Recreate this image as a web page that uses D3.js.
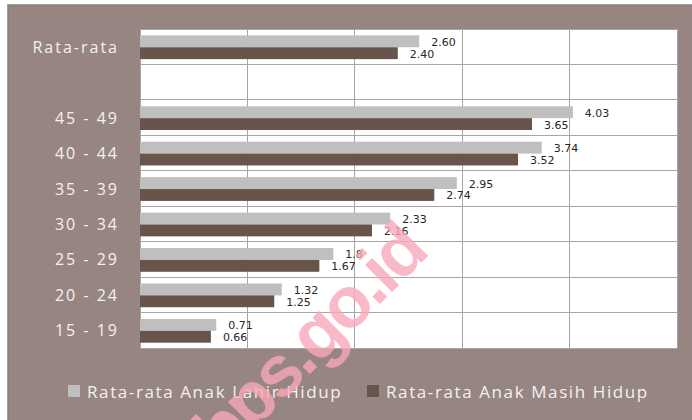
<!DOCTYPE html>
<html>
<head>
<meta charset="utf-8">
<script src="https://cdn.jsdelivr.net/npm/d3@7"></script>
<style>
  html, body { margin: 0; padding: 0; background: #ffffff; }
  svg { display: block; }
</style>
</head>
<body>
<svg id="chart" width="692" height="420"></svg>
<script>
// ---- data ----
const categories = ["Rata-rata", " ", "45 - 49", "40 - 44", "35 - 39", "30 - 34", "25 - 29", "20 - 24", "15 - 19"];
const lahirHidup = [2.60, null, 4.03, 3.74, 2.95, 2.33, 1.8, 1.32, 0.71];
const masihHidup = [2.40, null, 3.65, 3.52, 2.74, 2.16, 1.67, 1.25, 0.66];
const lahirLabels = ["2.60", "", "4.03", "3.74", "2.95", "2.33", "1.8", "1.32", "0.71"];
const masihLabels = ["2.40", "", "3.65", "3.52", "2.74", "2.16", "1.67", "1.25", "0.66"];
const seriesNames = ["Rata-rata Anak Lahir Hidup", "Rata-rata Anak Masih Hidup"];
const xTicks = [0, 1, 2, 3, 4, 5];

const colors = ["#bfbfbf", "#67544b"];
const svg = d3.select("#chart");

// outer background
svg.append("rect").attr("x", 8).attr("y", 5).attr("width", 700).attr("height", 430)
  .attr("fill", "#978581").attr("stroke", "#808080").attr("stroke-width", 1.5);

const plot = { left: 140, right: 677, top: 29, bottom: 348 };
const x = d3.scaleLinear().domain([0, 5]).range([plot.left, plot.right]);
const y = d3.scaleBand().domain(categories).range([plot.top, plot.bottom]).padding(0);
const yInner = d3.scaleBand().domain([0, 1]).range([y.bandwidth() * 0.18, y.bandwidth() * 0.85]).padding(0);

// plot area
svg.append("rect").attr("x", plot.left).attr("y", plot.top)
  .attr("width", plot.right - plot.left).attr("height", plot.bottom - plot.top)
  .attr("fill", "#ffffff");

// vertical gridlines
svg.append("g").selectAll("line").data(xTicks).join("line")
  .attr("x1", d => x(d)).attr("x2", d => x(d))
  .attr("y1", plot.top).attr("y2", plot.bottom)
  .attr("stroke", "#a6a6a6").attr("stroke-width", 1).attr("shape-rendering", "crispEdges");

// horizontal gridlines at band boundaries
const bounds = categories.map(c => y(c)).concat([plot.bottom]);
svg.append("g").selectAll("line").data(bounds).join("line")
  .attr("x1", plot.left).attr("x2", plot.right)
  .attr("y1", d => d).attr("y2", d => d)
  .attr("stroke", "#a6a6a6").attr("stroke-width", 1).attr("shape-rendering", "crispEdges");

// bars
const series = [lahirHidup, masihHidup];
const labels = [lahirLabels, masihLabels];
series.forEach((vals, si) => {
  const rows = categories.map((c, i) => ({ c, v: vals[i], l: labels[si][i] })).filter(d => d.v !== null);
  svg.append("g").selectAll("rect").data(rows).join("rect")
    .attr("x", x(0))
    .attr("y", d => y(d.c) + yInner(si))
    .attr("width", d => x(d.v) - x(0))
    .attr("height", yInner.bandwidth())
    .attr("fill", colors[si]);
  svg.append("g").selectAll("text").data(rows).join("text")
    .attr("x", d => x(d.v) + 12)
    .attr("y", d => y(d.c) + yInner(si) + yInner.bandwidth() / 2 + 1)
    .attr("dominant-baseline", "central")
    .attr("font-family", "DejaVu Sans, Verdana, sans-serif")
    .attr("font-size", 11)
    .attr("fill", "#262626")
    .text(d => d.l);
});

// category labels
svg.append("g").selectAll("text").data(categories).join("text")
  .attr("x", 119)
  .attr("y", d => y(d) + y.bandwidth() / 2)
  .attr("dominant-baseline", "central")
  .attr("text-anchor", "end")
  .attr("font-family", "Open Sans, sans-serif")
  .attr("font-size", 16)
  .attr("letter-spacing", 2)
  .attr("fill", "#f2f2f2")
  .text(d => d);

// legend
const legendX = [68, 367];
seriesNames.forEach((name, i) => {
  svg.append("rect").attr("x", legendX[i]).attr("y", 385).attr("width", 12).attr("height", 12)
    .attr("fill", colors[i]);
  svg.append("text").attr("x", legendX[i] + 19).attr("y", 391)
    .attr("dominant-baseline", "central")
    .attr("font-family", "Open Sans, sans-serif")
    .attr("font-size", 17)
    .attr("letter-spacing", 1.6)
    .attr("fill", "#f2f2f2")
    .text(name);
});

// watermark
svg.append("text")
  .attr("transform", "translate(326,358) rotate(-45)")
  .attr("text-anchor", "middle")
  .attr("font-family", "Liberation Sans, Arial, sans-serif")
  .attr("font-weight", "bold")
  .attr("font-size", 72)
  .attr("letter-spacing", -3)
  .attr("fill", "#f7a8b8")
  .attr("fill-opacity", 0.8)
  .text("bps.go.id");
</script>
</body>
</html>
